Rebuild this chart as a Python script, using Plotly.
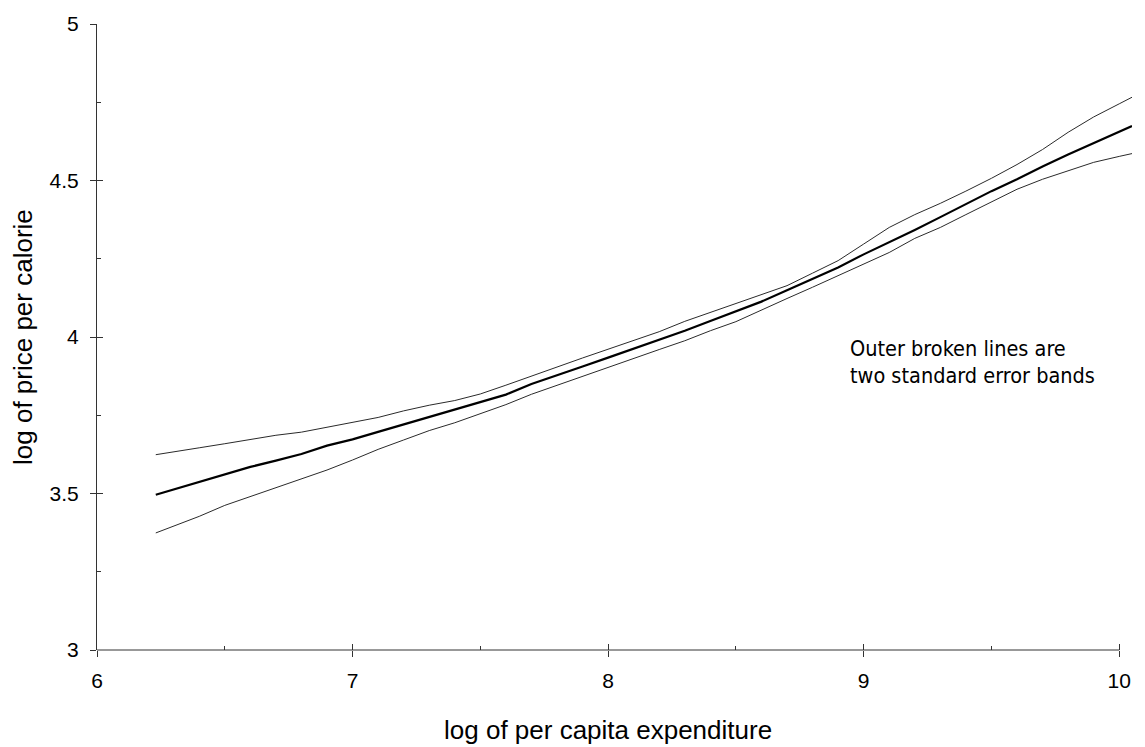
import plotly.graph_objects as go

# ---- data ----
log_expenditure = [6.23, 6.3, 6.4, 6.5, 6.6, 6.7, 6.8, 6.9, 7.0,
                   7.1, 7.2, 7.3, 7.4, 7.5, 7.6, 7.7, 7.8, 7.9, 8.0,
                   8.1, 8.2, 8.3, 8.4, 8.5, 8.6, 8.7, 8.8, 8.9, 9.0,
                   9.1, 9.2, 9.3, 9.4, 9.5, 9.6, 9.7, 9.8, 9.9, 10.0,
                   10.05]
price_fit = [3.496, 3.513, 3.537, 3.562, 3.585, 3.605, 3.626, 3.653, 3.673,
             3.697, 3.721, 3.745, 3.770, 3.794, 3.816, 3.850, 3.879, 3.906, 3.934,
             3.962, 3.990, 4.020, 4.051, 4.082, 4.113, 4.149, 4.185, 4.222, 4.264,
             4.302, 4.342, 4.383, 4.424, 4.466, 4.504, 4.545, 4.583, 4.620, 4.656,
             4.674]
band_upper = [3.624, 3.634, 3.646, 3.659, 3.672, 3.686, 3.696, 3.711, 3.727,
              3.743, 3.764, 3.782, 3.797, 3.818, 3.846, 3.876, 3.904, 3.933, 3.961,
              3.989, 4.017, 4.050, 4.079, 4.108, 4.136, 4.164, 4.204, 4.244, 4.297,
              4.350, 4.391, 4.427, 4.466, 4.507, 4.551, 4.599, 4.654, 4.703, 4.745,
              4.766]
band_lower = [3.374, 3.396, 3.427, 3.462, 3.490, 3.519, 3.547, 3.575, 3.607,
              3.641, 3.671, 3.701, 3.726, 3.755, 3.784, 3.817, 3.846, 3.875, 3.902,
              3.931, 3.960, 3.988, 4.020, 4.049, 4.087, 4.123, 4.159, 4.196, 4.233,
              4.270, 4.315, 4.350, 4.391, 4.431, 4.472, 4.504, 4.532, 4.558, 4.577,
              4.586]

x_major = [6, 7, 8, 9, 10]
x_minor = [6.5, 7.5, 8.5, 9.5]
y_major = [3, 3.5, 4, 4.5, 5]
y_minor = [3.25, 3.75, 4.25, 4.75]

x_title = "log of per capita expenditure"
y_title = "log of price per calorie"
note_lines = ["Outer broken lines are", "two standard error bands"]

FONT = "Liberation Sans, Arial, sans-serif"
NARROW = "Liberation Sans Narrow, Arial Narrow, DejaVu Sans Condensed, sans-serif"
AXIS_COLOR = "#333333"

fig = go.Figure()
fig.add_trace(go.Scatter(x=log_expenditure, y=band_upper, mode="lines",
                         line=dict(color="#2a2a2a", width=1), hoverinfo="skip"))
fig.add_trace(go.Scatter(x=log_expenditure, y=band_lower, mode="lines",
                         line=dict(color="#2a2a2a", width=1), hoverinfo="skip"))
fig.add_trace(go.Scatter(x=log_expenditure, y=price_fit, mode="lines",
                         line=dict(color="black", width=2.2), hoverinfo="skip"))
# invisible trace to activate the overlay axes (inner halves of major ticks)
fig.add_trace(go.Scatter(x=log_expenditure, y=price_fit, mode="lines",
                         xaxis="x2", yaxis="y2", opacity=0,
                         line=dict(width=0), hoverinfo="skip"))

XR = [6, 10.05]
YR = [3, 5]

fig.update_layout(
    width=1145, height=747,
    margin=dict(l=97, r=13, t=19, b=97),
    paper_bgcolor="white", plot_bgcolor="white",
    showlegend=False,
    font=dict(family=FONT, color="black"),
    xaxis=dict(range=XR, tickmode="array", tickvals=x_major,
               ticktext=[str(v) for v in x_major],
               ticks="outside", ticklen=6, tickwidth=1, tickcolor=AXIS_COLOR,
               minor=dict(tickmode="array", tickvals=x_minor, ticks="inside",
                          ticklen=4, tickwidth=1, tickcolor=AXIS_COLOR),
               showline=False, showgrid=False, zeroline=False,
               tickfont=dict(size=21, family=FONT), ticklabelstandoff=6),
    xaxis2=dict(range=XR, overlaying="x", anchor="y", side="bottom",
                tickmode="array", tickvals=x_major, ticks="inside", ticklen=6,
                tickwidth=1, tickcolor=AXIS_COLOR, showticklabels=False,
                showline=False, showgrid=False, zeroline=False),
    yaxis=dict(range=YR, tickmode="array", tickvals=y_major,
               ticktext=["3", "3.5", "4", "4.5", "5"],
               ticks="outside", ticklen=6, tickwidth=1, tickcolor=AXIS_COLOR,
               minor=dict(tickmode="array", tickvals=y_minor, ticks="inside",
                          ticklen=4, tickwidth=1, tickcolor=AXIS_COLOR),
               showline=True, linecolor=AXIS_COLOR, linewidth=1,
               showgrid=False, zeroline=False,
               tickfont=dict(size=21, family=FONT), ticklabelstandoff=7),
    yaxis2=dict(range=YR, overlaying="y", anchor="x", side="left",
                tickmode="array", tickvals=y_major, ticks="inside", ticklen=6,
                tickwidth=1, tickcolor=AXIS_COLOR, showticklabels=False,
                showline=False, showgrid=False, zeroline=False),
)

# x axis line runs from 6 to 10 only
fig.add_shape(type="line", xref="x", yref="paper", x0=x_major[0], x1=x_major[-1],
              y0=0, y1=0, line=dict(color=AXIS_COLOR, width=1))

# axis titles
fig.add_annotation(text=x_title, xref="x", yref="paper", x=8.0, y=0,
                   yshift=-80, xanchor="center", yanchor="middle",
                   showarrow=False, font=dict(size=26, family=FONT, color="black"))
fig.add_annotation(text=y_title, xref="paper", yref="y", x=0, y=4.0,
                   xshift=-74, xanchor="center", yanchor="middle", textangle=-90,
                   showarrow=False, font=dict(size=26, family=FONT, color="black"))

# note
for i, line in enumerate(note_lines):
    fig.add_annotation(text=line, xref="x", yref="y", x=8.94, y=3.962 - i * 0.086,
                       xanchor="left", yanchor="middle", showarrow=False,
                       font=dict(size=21.5, family=NARROW, color="black"))

fig.write_html("out.html")
